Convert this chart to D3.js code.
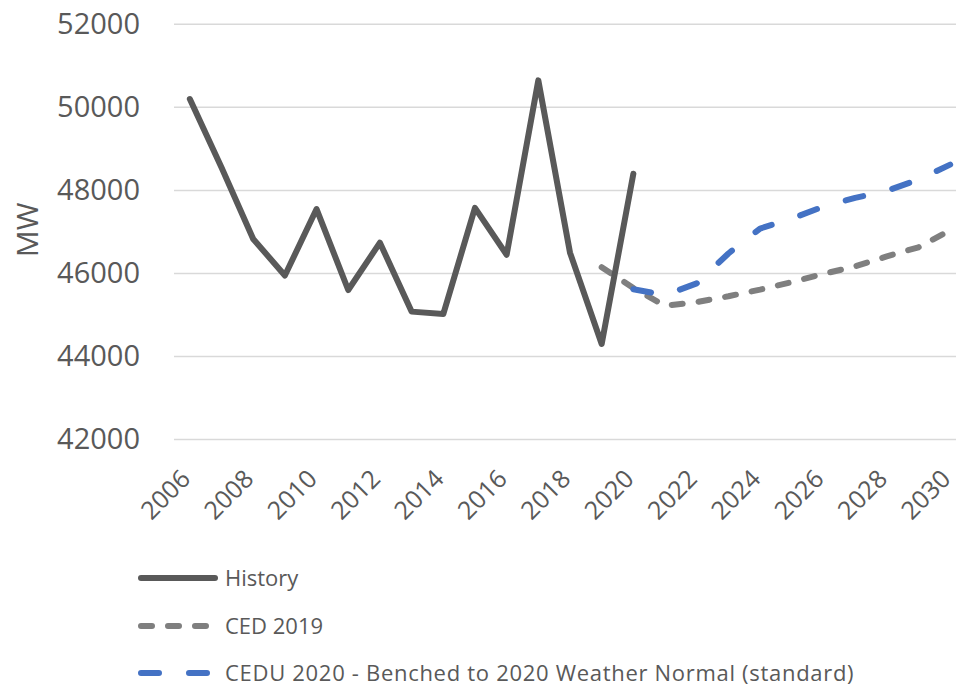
<!DOCTYPE html>
<html>
<head>
<meta charset="utf-8">
<script src="https://cdn.jsdelivr.net/npm/d3@7"></script>
<style>
  html, body { margin: 0; padding: 0; background: #fff; }
  svg { display: block; font-family: "Open Sans", "DejaVu Sans", sans-serif; }
</style>
</head>
<body>
<svg id="chart" width="956" height="687"></svg>
<script>
// Peak demand, MW
const years = ["2006","2007","2008","2009","2010","2011","2012","2013","2014","2015","2016","2017","2018",
               "2019","2020","2021","2022","2023","2024","2025","2026","2027","2028","2029","2030"];
const xTickLabels = ["2006","2008","2010","2012","2014","2016","2018","2020","2022","2024","2026","2028","2030"];
const yTicks = [42000, 44000, 46000, 48000, 50000, 52000];

const historyYears = ["2006","2007","2008","2009","2010","2011","2012","2013","2014","2015","2016","2017","2018","2019","2020"];
const historyValues = [50200, 48550, 46830, 45950, 47550, 45600, 46740, 45080, 45020, 47580, 46450, 50650, 46500, 44300, 48400];

const ced2019Years = ["2019","2020","2021","2022","2023","2024","2025","2026","2027","2028","2029","2030"];
const ced2019Values = [46150, 45650, 45220, 45310, 45450, 45610, 45790, 45990, 46170, 46410, 46630, 47040];

const cedu2020Years = ["2020","2021","2022","2023","2024","2025","2026","2027","2028","2029","2030"];
const cedu2020Values = [45620, 45480, 45760, 46480, 47080, 47320, 47610, 47820, 47990, 48260, 48620];

const seriesNames = ["History", "CED 2019", "CEDU 2020 - Benched to 2020 Weather Normal (standard)"];

const svg = d3.select("#chart");

const plot = { left: 174, right: 966, top: 24.3, bottom: 439.5 };

const x = d3.scaleBand().domain(years).range([plot.left, plot.right]);
const xc = d => x(d) + x.bandwidth() / 2;
const y = d3.scaleLinear().domain([42000, 52000]).range([plot.bottom, plot.top]);

const textColor = "#595959";

// horizontal gridlines
svg.append("g")
  .selectAll("line")
  .data(yTicks)
  .join("line")
  .attr("x1", plot.left)
  .attr("x2", plot.right)
  .attr("y1", d => y(d))
  .attr("y2", d => y(d))
  .attr("stroke", "#d9d9d9")
  .attr("stroke-width", 1.5);

// y axis labels
const yAxis = d3.axisLeft(y).tickValues(yTicks).tickSize(0).tickPadding(0).tickFormat(d3.format("d"));
svg.append("g")
  .attr("transform", "translate(140,0)")
  .call(yAxis)
  .call(g => g.select(".domain").remove())
  .selectAll("text")
  .attr("fill", textColor)
  .style("font-size", "29px")
  .style("font-family", "'Open Sans', sans-serif");

// y axis title
svg.append("text")
  .attr("transform", "translate(38,230) rotate(-90)")
  .attr("text-anchor", "middle")
  .attr("fill", textColor)
  .style("font-size", "30px")
  .text("MW");

// x axis labels, rotated
const xAxis = d3.axisBottom(x).tickValues(xTickLabels).tickSize(0).tickPadding(0);
svg.append("g")
  .attr("transform", `translate(0,${plot.bottom})`)
  .call(xAxis)
  .call(g => g.select(".domain").remove())
  .selectAll("text")
  .attr("fill", textColor)
  .style("font-size", "25px")
  .style("font-family", "'Open Sans', sans-serif")
  .attr("text-anchor", "end")
  .attr("dy", null)
  .attr("y", null)
  .attr("transform", "translate(2,41) rotate(-45)");

const line = d3.line().x(d => xc(d[0])).y(d => y(d[1]));

const styles = [
  { color: "#595959", width: 6, dash: null },
  { color: "#7f7f7f", width: 6, dash: "11,16" },
  { color: "#4472c4", width: 6, dash: "18,30" }
];

const ced = d3.zip(ced2019Years, ced2019Values);
const cedu = d3.zip(cedu2020Years, cedu2020Values);
const hist = d3.zip(historyYears, historyValues);

function drawSeries(data, s) {
  svg.append("path")
    .datum(data)
    .attr("d", line)
    .attr("fill", "none")
    .attr("stroke", s.color)
    .attr("stroke-width", s.width)
    .attr("stroke-linejoin", "round")
    .attr("stroke-linecap", "round")
    .attr("stroke-dasharray", s.dash);
}

drawSeries(ced, styles[1]);
drawSeries(cedu, styles[2]);
drawSeries(hist, styles[0]);

// legend
const legendRows = [578, 626, 673];
const legend = svg.append("g");
seriesNames.forEach((name, i) => {
  const s = styles[i];
  legend.append("line")
    .attr("x1", 141).attr("x2", 215)
    .attr("y1", legendRows[i]).attr("y2", legendRows[i])
    .attr("stroke", s.color)
    .attr("stroke-width", s.width)
    .attr("stroke-linecap", "round")
    .attr("stroke-dasharray", s.dash);
  legend.append("text")
    .attr("x", 225)
    .attr("y", legendRows[i] + 8)
    .attr("fill", textColor)
    .style("font-size", "22px")
    .style("letter-spacing", i === 2 ? "0.7px" : null)
    .text(name);
});
</script>
</body>
</html>
